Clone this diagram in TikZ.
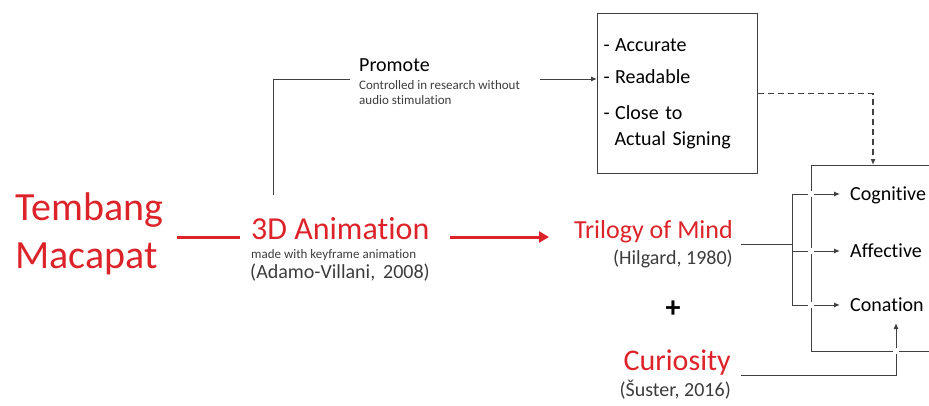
\documentclass[tikz,border=0pt]{standalone}
\usepackage{fontspec}
\setmainfont{Carlito}[Ligatures=NoCommon]
\usetikzlibrary{arrows.meta,positioning}
\definecolor{mred}{RGB}{221,35,42}
\definecolor{lgray}{RGB}{64,64,64}
\definecolor{tgray}{RGB}{60,60,60}
\newcommand{\fs}[1]{\fontsize{#1}{1.2\dimexpr#1pt\relax}\selectfont}
\tikzset{
  redttl/.style={text=mred, inner sep=0pt},
  cite/.style={text=tgray, inner sep=0pt, font=\fs{20}},
  note/.style={text=tgray, inner sep=0pt, font=\fontsize{13}{15}\selectfont},
  dim/.style={font=\fs{20}, inner xsep=10pt, inner ysep=0pt, text height=13.5pt, text depth=0pt},
  link/.style={draw=lgray, line width=1pt},
  tip/.style={-{Latex[length=6pt,width=5pt]}},
  redline/.style={draw=mred, line width=3pt},
  redtip/.style={-{Triangle[length=10pt,width=11pt]}},
  gap/.style={fill=white, minimum size=6pt, inner sep=0pt},
}
\begin{document}
\begin{tikzpicture}[x=1pt, y=-1pt]
  \useasboundingbox (0,0) rectangle (929,405);
  % left titles
  \node[redttl, anchor=west, align=left, font=\fontsize{40}{48}\selectfont] (tembang) at (15,234) {Tembang\\Macapat};
  \node[redttl, anchor=base west, font=\fs{32}] (anim) at (251,239) {3D Animation};
  \node[note, anchor=base west] (animnote) at (251,258) {made with keyframe animation};
  \node[cite, anchor=base west] (animcite) at (250,278) {(Adamo-Villani,\, 2008)};
  % middle
  \node[redttl, anchor=base east, font=\fs{26}] (trilogy) at (733,238) {Trilogy of Mind};
  \node[cite, anchor=base east] (hilgard) at (733,264) {(Hilgard, 1980)};
  \node[font=\fs{30}\bfseries, inner sep=0pt] (plus) at (673,309) {+};
  \node[redttl, anchor=base east, font=\fs{30}] (curio) at (731,370) {Curiosity};
  \node[cite, anchor=base east] (suster) at (731,396) {(Šuster, 2016)};
  % promote branch
  \node[inner sep=0pt, anchor=base west, font=\fs{20}] (promote) at (359,71) {Promote};
  \node[note, anchor=north west, align=left] (promnote) at (359,80) {Controlled in research without\\audio stimulation};
  \node[draw=lgray, line width=1pt, anchor=north west, minimum height=160pt, text width=148pt,
        inner xsep=6pt, align=left, font=\fontsize{20}{26}\selectfont] (crit) at (597,13)
        {-\;Accurate\\[6pt]-\;Readable\\[10pt]-\;Close to\\\hspace*{11pt}Actual Signing};
  % right side
  \node[dim, anchor=west] (cog) at (840,194) {Cognitive};
  \node[dim, anchor=west] (aff) at (840,251) {Affective};
  \node[dim, anchor=west] (con) at (840,305) {Conation};
  \coordinate (frmL) at (811,165);
  \coordinate (frmR) at (929,351);
  \coordinate (brk) at (792,244);
  \coordinate (promup) at (273,195);
  \coordinate (promin) at (350,79);
  \coordinate (promout) at (540,79);
  \coordinate (dashdn) at (873,165);
  \coordinate (curup) at (896,323);

  \draw[redline] (177,237) -- (240,237);
  \draw[redline, redtip] (450,237) -- (549,237);
  \draw[link] (promup) |- (promin);
  \draw[link, tip] (promout) -- (crit.west |- promout);
  \draw[link, line width=1.5pt, dash pattern=on 6pt off 4pt, tip] (crit.east) -| (dashdn);
  \draw[link] (frmR |- frmL) -- (frmL) |- (frmR);
  \draw[link] (741,244) -- (brk);
  \foreach \n in {cog,aff,con}
    \draw[link, tip] (brk) |- (\n.west);
  \draw[link, tip] (741,375) -| (curup);
  % white breaks where lines cross
  \foreach \n in {cog,aff,con}
    \node[gap] (gap\n) at (\n.west -| frmL) {};
  \node[gap] (gapcur) at (frmR -| curup) {};
\end{tikzpicture}
\end{document}
